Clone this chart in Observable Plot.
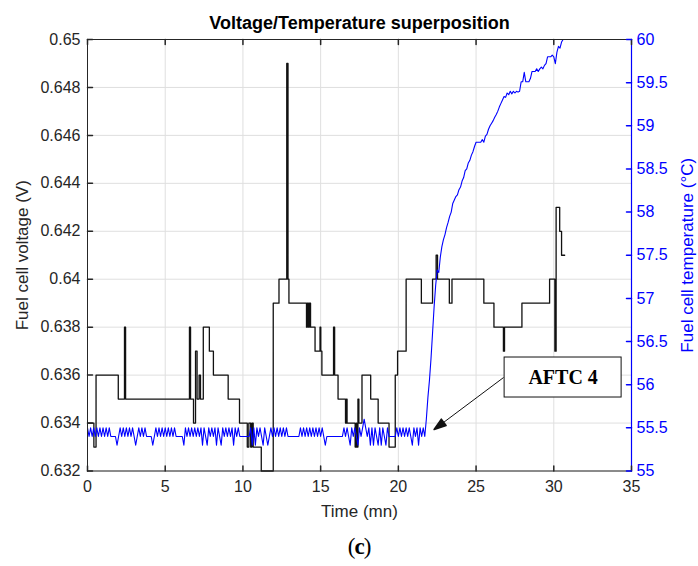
<!DOCTYPE html>
<html>
<head>
<meta charset="utf-8">
<script src="https://cdn.jsdelivr.net/npm/d3@7"></script>
<script src="https://cdn.jsdelivr.net/npm/@observablehq/plot@0.6"></script>
<style>
  html, body { margin: 0; padding: 0; background: #fff; }
  svg { display: block; }
</style>
</head>
<body>
<div id="chart"></div>
<script>
// ---- axes / ticks ----
const title = "Voltage/Temperature superposition";
const xLabel = "Time (mn)";
const yLeftLabel = "Fuel cell voltage (V)";
const yRightLabel = "Fuel cell temperature (°C)";
const xDomain = [0, 35];
const vDomain = [0.632, 0.65];
const tDomain = [55, 60];
const xTicks = [0, 5, 10, 15, 20, 25, 30, 35];
const vTicks = [0.632, 0.634, 0.636, 0.638, 0.640, 0.642, 0.644, 0.646, 0.648, 0.650];
const tTicks = [55, 55.5, 56, 56.5, 57, 57.5, 58, 58.5, 59, 59.5, 60];

// ---- voltage: change points [time (mn), voltage (V)] ----
const voltageTime = [0, 0.41, 0.55, 1.98, 2.38, 2.45, 6.56, 6.63, 6.82, 6.95, 7.05, 7.18, 7.27, 7.45, 7.84, 8.1,
  9.05, 9.78, 10.28, 10.38, 10.5, 10.58, 10.66, 11.18, 11.95, 12.32, 12.82, 12.9, 12.96, 14.09, 14.14, 14.22,
  14.27, 14.35, 14.64, 14.96, 15.01, 15.08, 15.83, 15.9, 16.12, 16.6, 16.66, 16.7, 17.22, 17.3, 17.33, 17.4,
  17.46, 17.66, 18.22, 18.7, 19.4, 19.8, 19.95, 20.5, 21.48, 22.2, 22.43, 22.52, 23.28, 23.45, 25.5, 26.15,
  26.76, 26.83, 27.95, 29.73, 30.07, 30.15, 30.38, 30.5, 30.7];
const voltageValue = [0.634, 0.633, 0.636, 0.635, 0.638, 0.635, 0.638, 0.635, 0.634, 0.637, 0.635, 0.636, 0.635, 0.638, 0.637, 0.636,
  0.635, 0.634, 0.633, 0.634, 0.633, 0.634, 0.633, 0.632, 0.639, 0.640, 0.649, 0.640, 0.639, 0.638, 0.639, 0.638,
  0.639, 0.638, 0.637, 0.638, 0.637, 0.636, 0.638, 0.636, 0.635, 0.634, 0.635, 0.634, 0.633, 0.634, 0.633, 0.635,
  0.634, 0.636, 0.635, 0.634, 0.633, 0.636, 0.637, 0.640, 0.639, 0.640, 0.641, 0.640, 0.639, 0.640, 0.639, 0.638,
  0.637, 0.638, 0.639, 0.640, 0.637, 0.643, 0.642, 0.641, 0.641];

// ---- temperature: one reading every 0.1 mn from t = 0 ----
const tempStart = 0;
const tempStep = 0.1;
const tempValue = [
  55.5,55.4,55.5,55.4,55.5,55.4,55.5,55.4,55.5,55.4,
  55.5,55.4,55.5,55.4,55.5,55.4,55.4,55.4,55.4,55.3,
  55.4,55.5,55.4,55.5,55.4,55.5,55.4,55.5,55.4,55.5,
  55.4,55.3,55.4,55.5,55.4,55.5,55.4,55.5,55.4,55.4,
  55.4,55.4,55.3,55.4,55.5,55.4,55.5,55.4,55.5,55.4,
  55.5,55.4,55.5,55.4,55.5,55.4,55.5,55.4,55.4,55.4,
  55.4,55.4,55.3,55.5,55.4,55.5,55.4,55.5,55.4,55.5,
  55.4,55.5,55.4,55.5,55.3,55.5,55.4,55.3,55.5,55.4,
  55.5,55.4,55.5,55.3,55.5,55.4,55.3,55.5,55.4,55.5,
  55.4,55.5,55.4,55.5,55.3,55.5,55.4,55.5,55.4,55.4,
  55.4,55.4,55.4,55.4,55.4,55.5,55.3,55.5,55.3,55.5,
  55.4,55.5,55.4,55.3,55.5,55.4,55.3,55.4,55.5,55.4,
  55.5,55.4,55.5,55.4,55.5,55.4,55.5,55.4,55.5,55.4,
  55.4,55.4,55.4,55.4,55.4,55.4,55.4,55.5,55.4,55.5,
  55.4,55.5,55.4,55.5,55.4,55.5,55.4,55.5,55.4,55.5,
  55.4,55.5,55.4,55.3,55.4,55.4,55.4,55.4,55.4,55.4,
  55.4,55.4,55.4,55.4,55.4,55.5,55.4,55.5,55.4,55.3,
  55.5,55.4,55.5,55.4,55.3,55.5,55.4,55.5,55.6,55.5,
  55.4,55.5,55.3,55.5,55.3,55.5,55.4,55.3,55.5,55.3,
  55.5,55.4,55.3,55.5,55.4,55.4,55.4,55.4,55.4,55.5,
  55.4,55.5,55.4,55.5,55.4,55.5,55.4,55.5,55.4,55.3,
  55.5,55.4,55.5,55.3,55.5,55.4,55.5,55.4,55.6,55.85,
  56.05,56.3,56.6,56.9,57.15,57.33,57.3,57.48,57.6,57.68,
  57.74,57.82,57.88,57.95,58.0,58.1,58.14,58.18,58.2,58.26,
  58.29,58.36,58.4,58.48,58.5,58.57,58.6,58.66,58.7,58.76,
  58.81,58.81,58.81,58.81,58.84,58.81,58.88,58.9,58.96,59.0,
  59.03,59.06,59.1,59.13,59.17,59.22,59.26,59.3,59.34,59.33,
  59.38,59.36,59.4,59.37,59.4,59.38,59.4,59.39,59.4,59.51,
  59.51,59.62,59.51,59.51,59.51,59.55,59.63,59.63,59.63,59.66,
  59.63,59.66,59.68,59.66,59.7,59.72,59.8,59.8,59.8,59.82,
  59.8,59.72,59.85,59.92,59.9,59.97,60.0,60.0
];

// ---- annotation ----
const annotLabel = ["AFTC 4"];
const annotCenter = [[30.6, 0.6359]];
const annotTail = [[26.77, 0.6359]];
const annotTip = [[22.3, 0.63373]];

// ---- derived tables ----
const voltage = voltageTime.map((t, i) => ({t, v: voltageValue[i]}));
const temperature = tempValue.map((T, i) => ({t: tempStart + i * tempStep, T}));
const annot = annotLabel.map((label, i) => ({
  label, x: annotCenter[i][0], y: annotCenter[i][1],
  x1: annotTail[i][0], y1: annotTail[i][1], x2: annotTip[i][0], y2: annotTip[i][1]
}));

// map temperature onto the voltage scale (right axis)
const toV = T => vDomain[0] + (T - tDomain[0]) * (vDomain[1] - vDomain[0]) / (tDomain[1] - tDomain[0]);
const toT = v => tDomain[0] + (v - vDomain[0]) * (tDomain[1] - tDomain[0]) / (vDomain[1] - vDomain[0]);

const W = 698, H = 566;
const mL = 87, mR = 67, mT = 39, mB = 95.5;
const pxPerX = (W - mL - mR) / (xDomain[1] - xDomain[0]);
const pxPerV = (H - mT - mB) / (vDomain[1] - vDomain[0]);

const tickShape = {draw(ctx, l) { ctx.moveTo(0, 0); ctx.lineTo(0, -l); }};
const headShape = {draw(ctx, l) { ctx.moveTo(-4, 0); ctx.lineTo(0, -l); ctx.lineTo(4, 0); ctx.closePath(); }};
const headAngle = d => Math.atan2((d.x2 - d.x1) * pxPerX, (d.y2 - d.y1) * pxPerV) * 180 / Math.PI;

const axisColor = "#262626";
const gridColor = "#dfdfdf";
const blue = "#0000ff";
const fmtV = d => String(+d.toFixed(3));
const fmtT = d => String(Math.round(toT(d) * 10) / 10);
const serif = "'Liberation Serif', 'Times New Roman', serif";

const chart = Plot.plot({
  width: W, height: H,
  marginLeft: mL, marginRight: mR, marginTop: mT, marginBottom: mB,
  x: {domain: xDomain},
  y: {domain: vDomain},
  style: {fontFamily: "'Liberation Sans', Arial, sans-serif", fontSize: "16px", background: "#fff", color: axisColor, overflow: "visible"},
  marks: [
    Plot.gridX(xTicks, {stroke: gridColor, strokeOpacity: 1}),
    Plot.gridY(vTicks, {stroke: gridColor, strokeOpacity: 1}),
    Plot.line(voltage, {x: "t", y: "v", curve: "step-after", stroke: "#111", strokeWidth: 1.3}),
    Plot.line(temperature, {x: "t", y: d => toV(d.T), stroke: blue, strokeWidth: 1.1}),
    Plot.frame({stroke: axisColor, strokeWidth: 1}),
    Plot.ruleX([xDomain[1]], {stroke: blue, strokeWidth: 1.2}),
    // inward ticks
    Plot.vector(xTicks, {x: d => d, frameAnchor: "bottom", anchor: "start", rotate: 0, length: 5, shape: tickShape, stroke: axisColor}),
    Plot.vector(xTicks, {x: d => d, frameAnchor: "top", anchor: "start", rotate: 180, length: 5, shape: tickShape, stroke: axisColor}),
    Plot.vector(vTicks, {y: d => d, frameAnchor: "left", anchor: "start", rotate: 90, length: 5, shape: tickShape, stroke: axisColor}),
    Plot.vector(tTicks.map(toV), {y: d => d, frameAnchor: "right", anchor: "start", rotate: -90, length: 5, shape: tickShape, stroke: blue}),
    // tick labels
    Plot.axisX(xTicks, {anchor: "bottom", tickSize: 0, tickPadding: 10, tickFormat: d => String(d), label: null, color: axisColor, fontSize: 16}),
    Plot.axisY(vTicks, {anchor: "left", tickSize: 0, tickPadding: 7, tickFormat: fmtV, label: null, color: axisColor, fontSize: 16}),
    Plot.axisY(tTicks.map(toV), {anchor: "right", tickSize: 0, tickPadding: 5, tickFormat: fmtT, label: null, color: blue, fontSize: 16}),
    // axis labels & title
    Plot.text([title], {frameAnchor: "top", lineAnchor: "middle", dy: -16, fontWeight: "bold", fontSize: 18, fill: "#000"}),
    Plot.text([xLabel], {frameAnchor: "bottom", lineAnchor: "middle", dy: 41, fontSize: 17, fill: axisColor}),
    Plot.text([yLeftLabel], {frameAnchor: "left", textAnchor: "middle", dx: -65, rotate: -90, fontSize: 17, fill: axisColor}),
    Plot.text([yRightLabel], {frameAnchor: "right", textAnchor: "middle", dx: 56, rotate: -90, fontSize: 17, fill: blue}),
    // annotation
    Plot.link(annot, {x1: "x1", y1: "y1", x2: "x2", y2: "y2", stroke: "#111", strokeWidth: 1}),
    Plot.vector(annot, {x: "x2", y: "y2", anchor: "end", rotate: headAngle, length: 12, shape: headShape, fill: "#111", stroke: "#111"}),
    Plot.rect(annot, {x1: "x", x2: "x", y1: "y", y2: "y", insetLeft: -58.5, insetRight: -58.5, insetTop: -20, insetBottom: -20, fill: "#fff", stroke: "#111"}),
    Plot.text(annot, {x: "x", y: "y", text: "label", fontFamily: serif, fontWeight: "bold", fontSize: 20, fill: "#000"}),
    // panel caption "(c)"
    Plot.text(["("], {frameAnchor: "bottom", lineAnchor: "middle", dx: -8, dy: 76, fontFamily: serif, fontSize: 23, fill: "#000"}),
    Plot.text(["c"], {frameAnchor: "bottom", lineAnchor: "middle", dx: 0, dy: 76, fontFamily: serif, fontWeight: "bold", fontSize: 23, fill: "#000"}),
    Plot.text([")"], {frameAnchor: "bottom", lineAnchor: "middle", dx: 8, dy: 76, fontFamily: serif, fontSize: 23, fill: "#000"})
  ]
});
document.getElementById("chart").appendChild(chart);
</script>
</body>
</html>
